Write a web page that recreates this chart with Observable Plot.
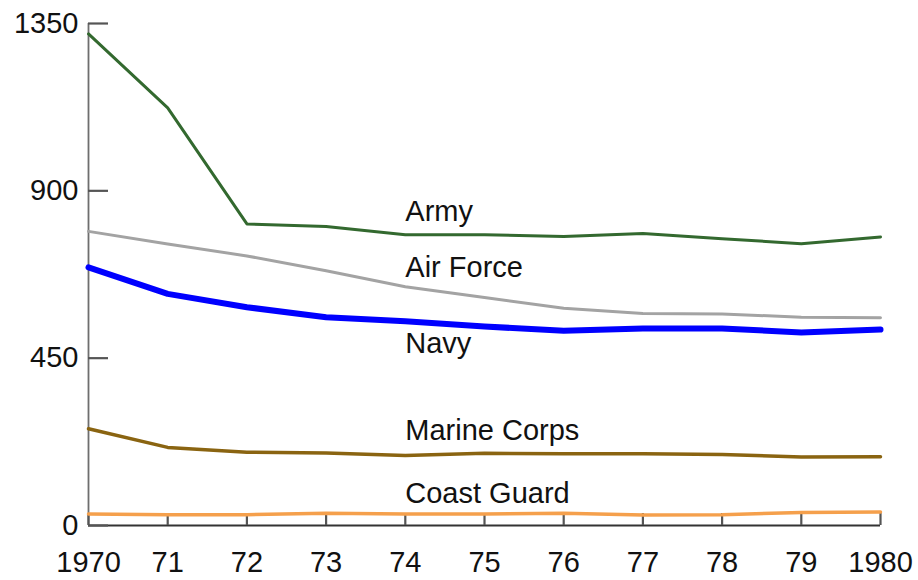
<!DOCTYPE html>
<html>
<head>
<meta charset="utf-8">
<script src="https://cdn.jsdelivr.net/npm/d3@7"></script>
<script src="https://cdn.jsdelivr.net/npm/@observablehq/plot@0.6"></script>
<style>
  html, body { margin: 0; padding: 0; background: #fff; }
  #chart { width: 918px; height: 580px; }
</style>
</head>
<body>
<div id="chart"></div>
<script>
// ---- data (thousands of personnel) ----
const years = [1970, 1971, 1972, 1973, 1974, 1975, 1976, 1977, 1978, 1979, 1980];
const army        = [1322, 1123, 811, 804, 782, 782, 777, 785, 771, 758, 776];
const airForce    = [791, 757, 725, 685, 642, 613, 584, 570, 569, 560, 559];
const navy        = [694, 623, 587, 560, 549, 535, 524, 530, 530, 519, 527];
const marineCorps = [260, 210, 197, 195, 188, 194, 193, 193, 191, 184, 185];
const coastGuard  = [31, 29, 29, 33, 31, 31, 33, 28, 29, 35, 36];
const seriesNames = ["Army", "Air Force", "Navy", "Marine Corps", "Coast Guard"];
const xTickLabels = ["1970", "71", "72", "73", "74", "75", "76", "77", "78", "79", "1980"];
const yTicks = [0, 450, 900, 1350];
const yTickLabels = ["0", "450", "900", "1350"];

// ---- presentation ----
const seriesValues = [army, airForce, navy, marineCorps, coastGuard];
const seriesStyle = {
  "Army":         {stroke: "#33692f", width: 3},
  "Air Force":    {stroke: "#a3a3a3", width: 3},
  "Navy":         {stroke: "#0000ff", width: 6},
  "Marine Corps": {stroke: "#8a6411", width: 3.5},
  "Coast Guard":  {stroke: "#f5a04c", width: 3.5}
};
const labelAt = {year: 1974, "Army": 844, "Air Force": 694, "Navy": 489, "Marine Corps": 255, "Coast Guard": 86};

const rows = seriesNames.map((name, i) =>
  years.map((year, j) => ({name, year, value: seriesValues[i][j]})));
const labels = seriesNames.map(name => ({name, year: labelAt.year, value: labelAt[name]}));

const font = "'Liberation Sans', Arial, Helvetica, sans-serif";

const chart = Plot.plot({
  width: 918,
  height: 580,
  marginLeft: 88,
  marginRight: 38,
  marginTop: 23,
  marginBottom: 55,
  style: {fontFamily: font, background: "#fff", color: "#555555"},
  x: {domain: [1970, 1980]},
  y: {domain: [0, 1350]},
  marks: [
    Plot.ruleX([1970], {stroke: "#6e6e6e", strokeWidth: 1.8}),
    Plot.ruleY([0], {stroke: "#333333", strokeWidth: 1.8}),
    // inward tick marks (outward ticks shifted back inside the frame)
    Plot.axisY(yTicks, {tickSize: 20, dx: 20, text: null, label: null, strokeWidth: 2.2}),
    Plot.axisX(years, {tickSize: 12, dy: -12, text: null, label: null, strokeWidth: 2.2}),
    Plot.axisY(yTicks, {tickSize: 0, tickPadding: 10, label: null, fontSize: 29, fill: "#111111",
      tickFormat: d => yTickLabels[yTicks.indexOf(d)]}),
    Plot.axisX(years, {tickSize: 0, tickPadding: 26, label: null, fontSize: 29, fill: "#111111",
      tickFormat: d => xTickLabels[years.indexOf(d)]}),
    ...rows.map(r => Plot.line(r, {
      x: "year", y: "value",
      stroke: seriesStyle[r[0].name].stroke,
      strokeWidth: seriesStyle[r[0].name].width,
      strokeLinejoin: "round", strokeLinecap: "round"
    })),
    Plot.text(labels, {x: "year", y: "value", text: "name", textAnchor: "start",
      fontSize: 29, fill: "#111111"})
  ]
});
document.getElementById("chart").appendChild(chart);
</script>
</body>
</html>
